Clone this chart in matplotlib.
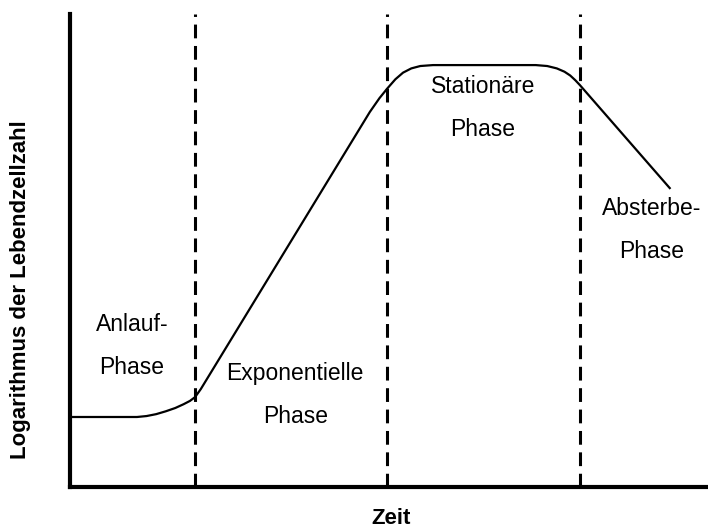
import matplotlib
matplotlib.use("Agg")
import matplotlib.pyplot as plt

plt.rcParams['font.family'] = ['Liberation Sans', 'DejaVu Sans']

# Wachstumskurve (Zeit, log Lebendzellzahl)
zeit = [0.0, 1.05, 1.2, 1.35, 1.5, 1.65, 1.78, 1.88, 1.96, 2.05,
        4.70, 4.85, 4.97, 5.10, 5.22, 5.35, 5.49, 5.69,
        7.30, 7.48, 7.63, 7.75, 7.84, 7.92, 7.99, 9.40]
logzahl = [1.48, 1.48, 1.50, 1.54, 1.60, 1.67, 1.75, 1.82, 1.90, 2.07,
           7.93, 8.22, 8.42, 8.62, 8.76, 8.85, 8.90, 8.92,
           8.92, 8.90, 8.85, 8.78, 8.70, 8.60, 8.50, 6.32]

grenzen = [1.96, 4.97, 7.99]  # Phasengrenzen

phasen = ["Anlauf-\nPhase", "Exponentielle\nPhase", "Stationäre\nPhase", "Absterbe-\nPhase"]
phasen_x = [0.97, 3.53, 6.47, 9.11]
phasen_y = [2.98, 1.94, 8.01, 5.43]

fig = plt.figure(figsize=(7.08, 5.29), dpi=100)
ax = fig.add_axes([70/708, 42/529, 638/708, 473/529])
ax.set_xlim(0, 10)
ax.set_ylim(0, 10)

ax.plot(zeit, logzahl, color='black', lw=1.6, solid_joinstyle='round')
for g in grenzen:
    ax.axvline(g, color='black', lw=2.2, dashes=(4.5, 2.5))

for t, x, y in zip(phasen, phasen_x, phasen_y):
    ax.text(x, y, t, ha='center', va='center', fontsize=16.5, linespacing=2.1)

ax.spines['top'].set_visible(False)
ax.spines['right'].set_visible(False)
ax.spines['left'].set_linewidth(3)
ax.spines['bottom'].set_linewidth(3)
ax.set_xticks([])
ax.set_yticks([])

fig.text(391/708, 1 - 519/529, "Zeit", fontsize=16, fontweight='bold',
         ha='center', va='center')
fig.text(21/708, 1 - 290/529, "Logarithmus der Lebendzellzahl", fontsize=16,
         fontweight='bold', rotation=90, ha='center', va='center')

fig.savefig("out.png", dpi=100)
